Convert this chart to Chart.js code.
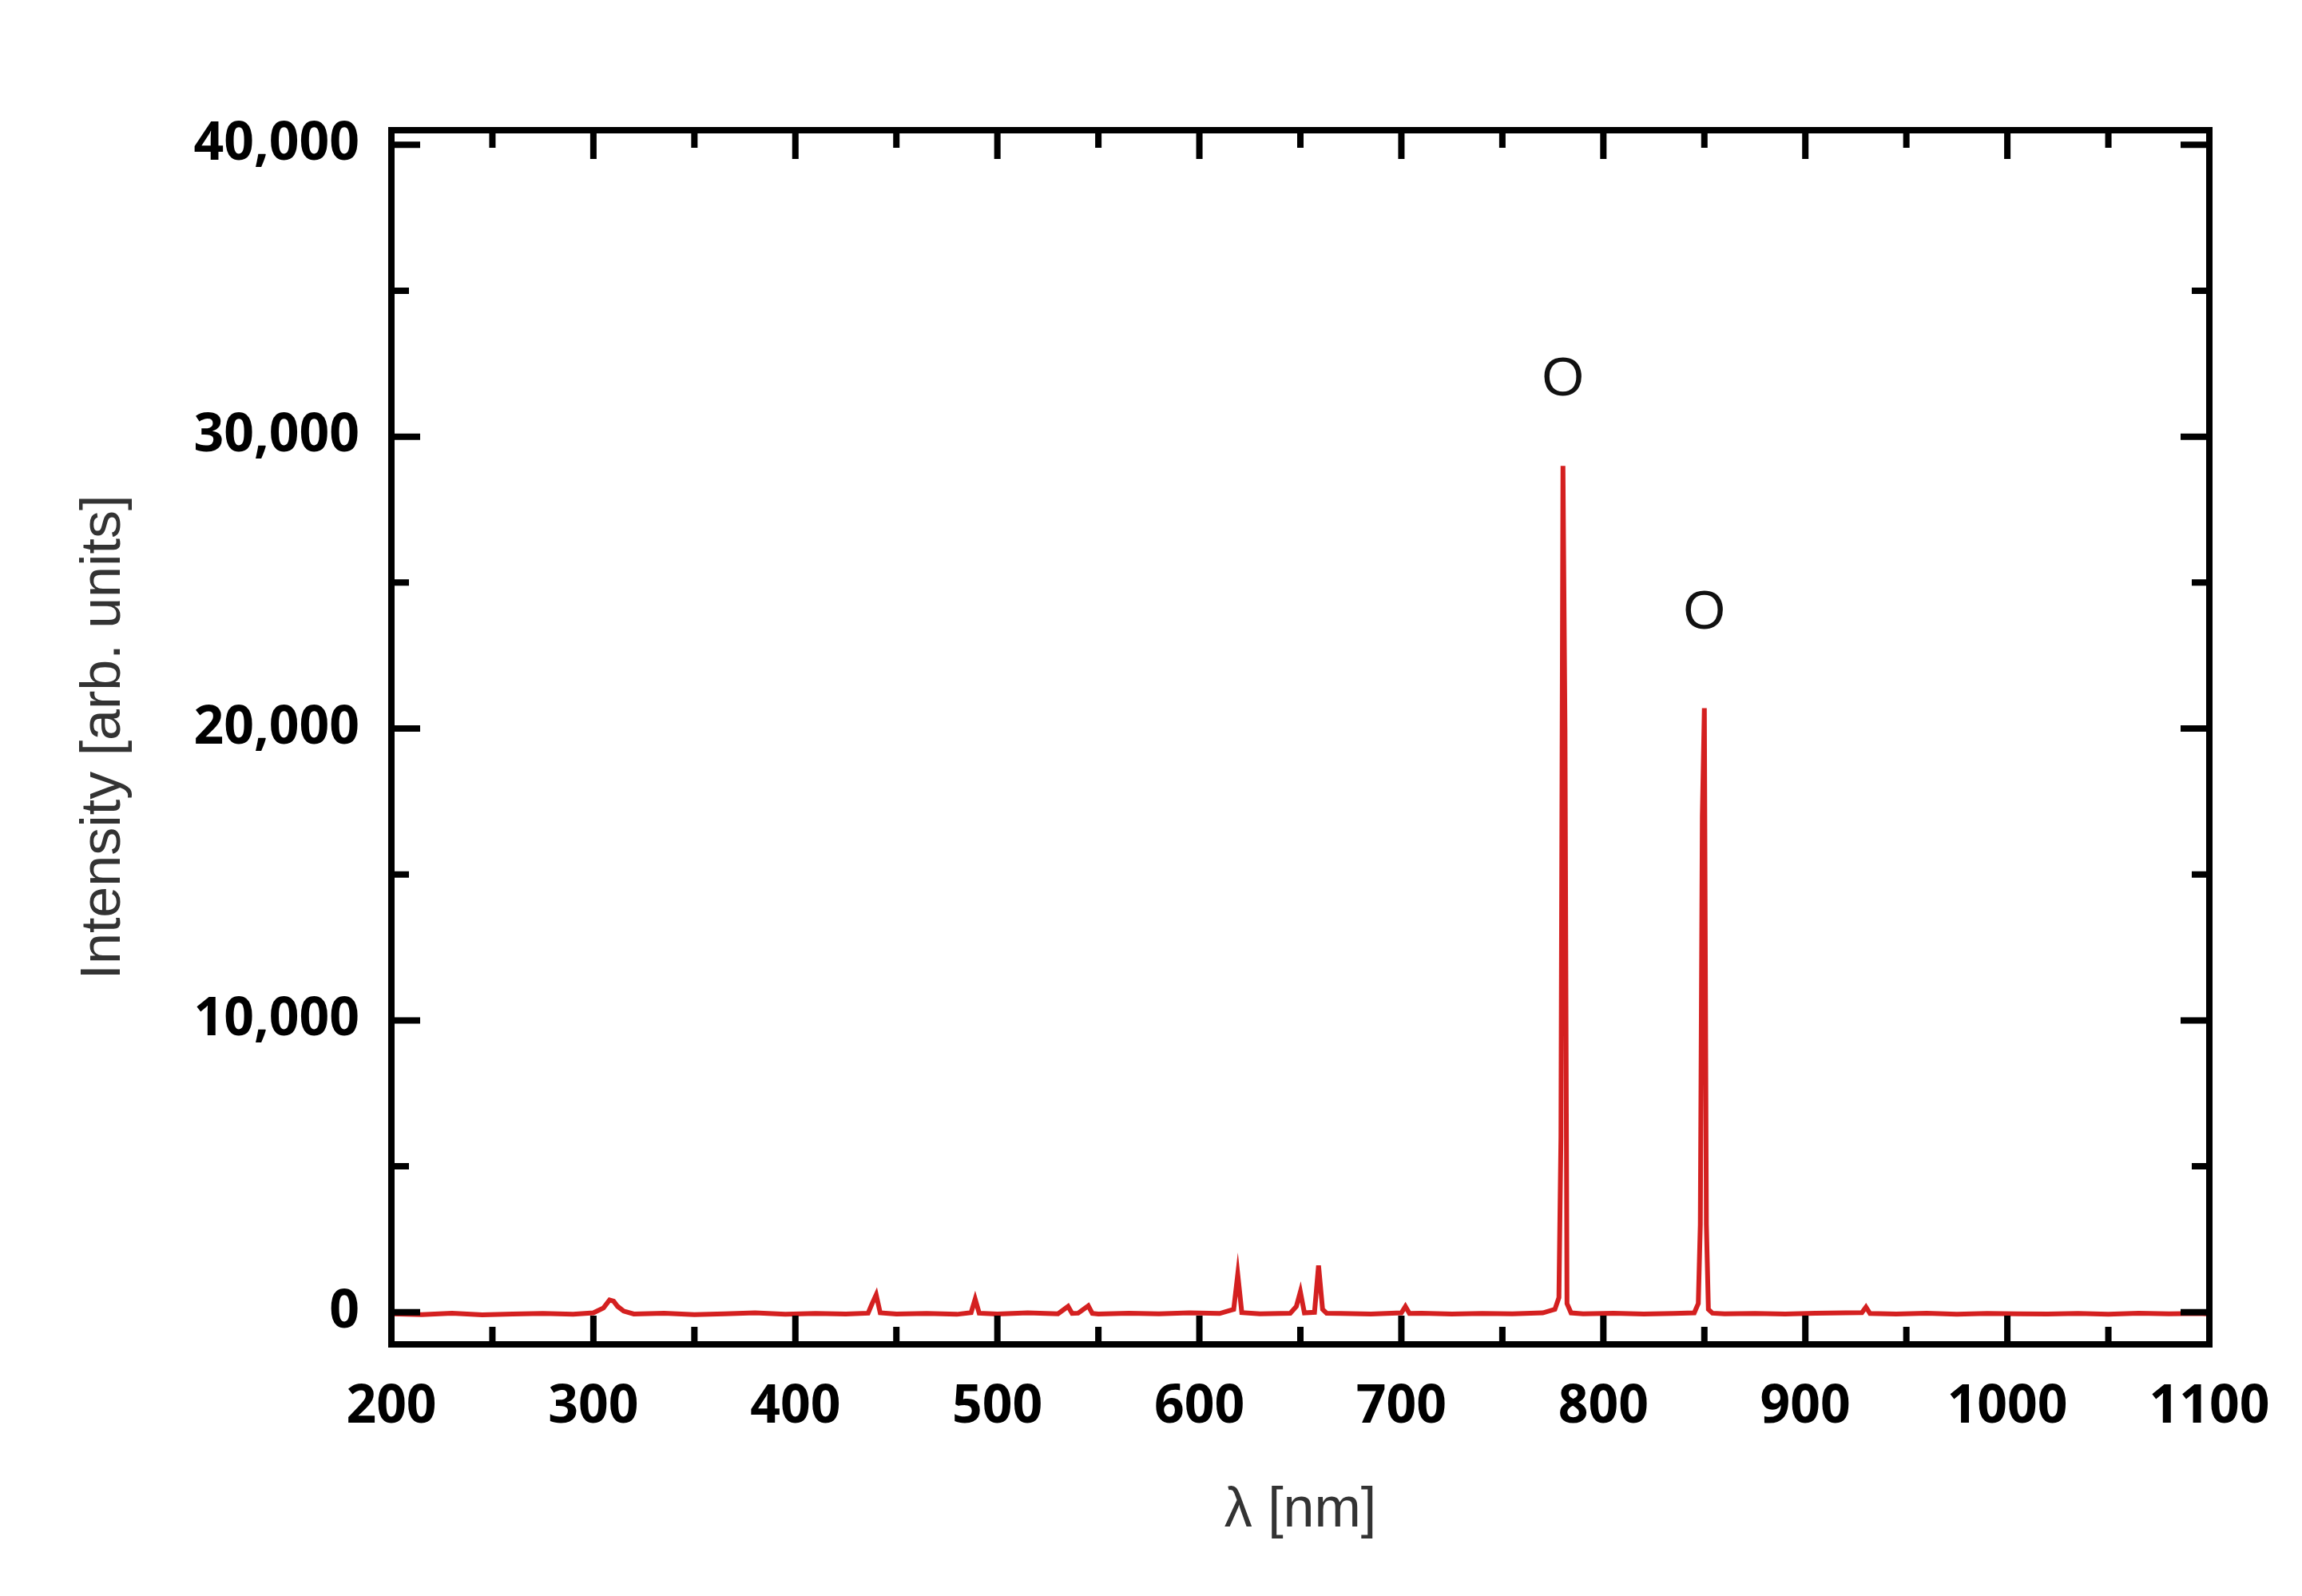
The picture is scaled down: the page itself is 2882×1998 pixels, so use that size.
<!DOCTYPE html>
<html>
<head>
<meta charset="utf-8">
<script src="https://cdn.jsdelivr.net/npm/chart.js@4/dist/chart.umd.min.js"></script>
<style>
  body { margin: 0; background: #fff; }
  #wrap { width: 2882px; height: 1998px; }
</style>
</head>
<body>
<div id="wrap"><canvas id="c" width="2882" height="1998"></canvas></div>
<script>
// spectrum: wavelength (nm) and intensity
const wavelengths = [200,215,230,245,260,275,290,300,305,308,310,312,315,320,335,350,365,380,395,410,425,436,438,440,442,450,465,480,487,489,491,500,515,530,535,537,540,545,547,550,565,580,595,610,617,619,621,630,645,648,650,652,657,659,661,663,670,685,700,702,704,710,725,740,755,770,776,778,779,780,781,782,784,790,805,820,835,845,847,848,849,850,851,852,854,860,875,890,905,920,928,930,932,945,960,975,990,1005,1020,1035,1050,1065,1080,1095,1100];
const intensity   = [-50,-80,-30,-90,-60,-40,-70,-20,150,420,380,200,40,-60,-30,-80,-50,-20,-70,-40,-60,-30,300,600,-20,-60,-40,-70,-10,450,-30,-60,-20,-50,200,-40,-30,220,-40,-60,-30,-50,-20,-40,100,1300,-10,-50,-30,200,700,-20,0,1600,100,-30,-40,-60,-20,200,-40,-30,-60,-40,-50,-20,100,500,6000,29000,20000,300,-20,-50,-30,-60,-40,-20,300,3000,17000,20700,3000,100,-30,-50,-40,-60,-30,-20,-10,180,-40,-60,-30,-70,-40,-50,-60,-40,-70,-30,-50,-40,-60,-50];
const xTicks = [200,300,400,500,600,700,800,900,1000,1100];
const yTicks = [0,10000,20000,30000,40000];
const peakLabels = [{ x: 780, y: 31000, text: 'O' }, { x: 850, y: 23000, text: 'O' }];

const points = wavelengths.map((w, i) => ({ x: w, y: intensity[i] }));

// ticks pointing inward on all four sides, plus the "O" labels
const framePlugin = {
  id: 'frame',
  afterDraw(chart) {
    const { ctx, chartArea: a, scales: { x, y } } = chart;
    ctx.save();
    ctx.strokeStyle = '#000';
    ctx.lineWidth = 8;
    ctx.strokeRect(a.left, a.top, a.right - a.left, a.bottom - a.top);
    ctx.lineWidth = 8;
    for (let v = 200; v <= 1100; v += 50) {
      const px = x.getPixelForValue(v);
      const len = v % 100 === 0 ? 36 : 22;
      ctx.beginPath();
      ctx.moveTo(px, a.bottom); ctx.lineTo(px, a.bottom - len);
      ctx.moveTo(px, a.top); ctx.lineTo(px, a.top + len);
      ctx.stroke();
    }
    for (let v = 0; v <= 40000; v += 5000) {
      const py = y.getPixelForValue(v);
      const len = v % 10000 === 0 ? 36 : 22;
      ctx.beginPath();
      ctx.moveTo(a.left, py); ctx.lineTo(a.left + len, py);
      ctx.moveTo(a.right, py); ctx.lineTo(a.right - len, py);
      ctx.stroke();
    }
    ctx.fillStyle = '#111';
    ctx.font = '68px "Liberation Sans", Arial, sans-serif';
    ctx.textAlign = 'center';
    ctx.textBaseline = 'bottom';
    peakLabels.forEach(p => ctx.fillText(p.text, x.getPixelForValue(p.x), y.getPixelForValue(p.y)));
    ctx.restore();
  }
};

new Chart(document.getElementById('c'), {
  type: 'line',
  data: {
    datasets: [{
      data: points,
      borderColor: '#d42020',
      borderWidth: 6,
      pointRadius: 0,
      tension: 0
    }]
  },
  options: {
    responsive: false,
    animation: false,
    devicePixelRatio: 1,
    layout: { padding: { top: 163, right: 116, left: 85, bottom: 60 } },
    plugins: { legend: { display: false }, tooltip: { enabled: false } },
    scales: {
      x: {
        type: 'linear', min: 200, max: 1100,
        afterBuildTicks: s => { s.ticks = xTicks.map(v => ({ value: v })); },
        afterFit: s => { s.height = 255; },
        grid: { display: false, drawTicks: false },
        border: { display: false },
        ticks: { color: '#000', padding: 40, font: { size: 66, weight: 'bold', family: '"Open Sans", Arial' },
                 callback: v => String(v) },
        title: { display: true, text: 'λ [nm]', color: '#333', padding: { top: 0 }, font: { size: 70, family: '"Liberation Sans", Arial' } }
      },
      y: {
        type: 'linear', min: -1100, max: 40500,
        afterBuildTicks: s => { s.ticks = yTicks.map(v => ({ value: v })); },
        afterFit: s => { s.width = 405; },
        grid: { display: false, drawTicks: false },
        border: { display: false },
        ticks: { color: '#000', padding: 40, font: { size: 66, weight: 'bold', family: '"Open Sans", Arial' },
                 callback: v => v.toLocaleString('en-US') },
        title: { display: true, text: 'Intensity [arb. units]', color: '#333', padding: { bottom: 0 }, font: { size: 70, family: '"Liberation Sans", Arial' } }
      }
    }
  },
  plugins: [framePlugin]
});
</script>
</body>
</html>
